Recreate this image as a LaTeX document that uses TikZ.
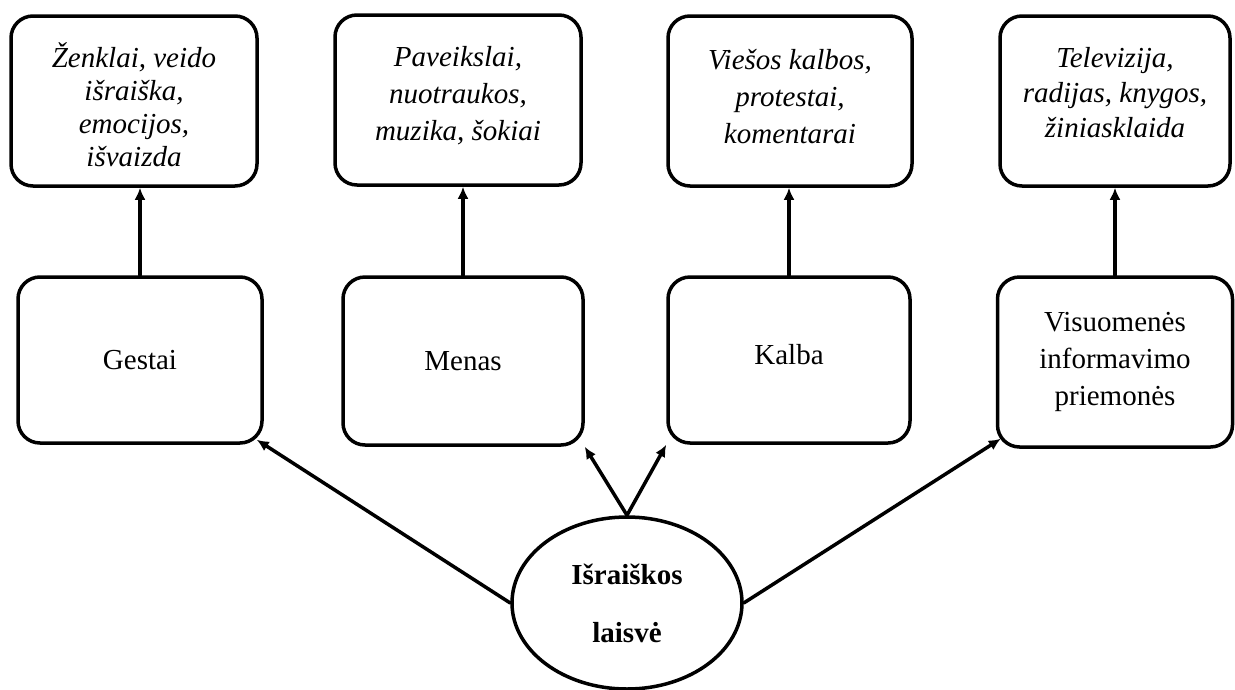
\documentclass[tikz,border=0pt]{standalone}
\usepackage{fontspec}
\setmainfont{Liberation Serif}
\usetikzlibrary{shapes.geometric,arrows.meta,calc}
\newcommand{\liftup}[2]{\raisebox{#1}[0pt][0pt]{\begin{tabular}{@{}c@{}}#2\end{tabular}}}

\begin{document}
\begin{tikzpicture}[x=1pt,y=-1pt,line cap=round,line join=round,
    topbox/.style={draw,line width=3.5pt,rounded corners=22pt,align=center,inner sep=0pt,
        minimum height=170pt,font=\fontsize{29}{37}\selectfont\itshape},
    midbox/.style={draw,line width=3.5pt,rounded corners=22pt,align=center,inner sep=0pt,
        font=\fontsize{29}{37}\selectfont},
    link/.style={line width=3.5pt,-{Latex[length=12pt,width=11pt]}}]
    \useasboundingbox (0,0) rectangle (1235,689);
    % top row
    \node[topbox,minimum width=246pt] (t1) at (134,101) {\liftup{-15pt}{Ženklai, veido\\[-4pt]išraiška,\\[-4pt]emocijos,\\[-4pt]išvaizda}};
    \node[topbox,minimum width=246pt] (t2) at (458,100) {\liftup{-2pt}{Paveikslai,\\nuotraukos,\\muzika, šokiai}};
    \node[topbox,minimum width=244pt] (t3) at (790,101) {\liftup{-4pt}{Viešos kalbos,\\protestai,\\komentarai}};
    \node[topbox,minimum width=230pt] (t4) at (1115,101) {\liftup{0pt}{Televizija,\\[-2pt]radijas, knygos,\\[-2pt]žiniasklaida}};

    % middle row
    \node[midbox,minimum width=244pt,minimum height=166pt] (m1) at (140,360) {Gestai};
    \node[midbox,minimum width=240pt,minimum height=168pt] (m2) at (463,361) {Menas};
    \node[midbox,minimum width=242pt,minimum height=166pt] (m3) at (789,360) {\liftup{-3pt}{Kalba}};
    \node[midbox,minimum width=235pt,minimum height=170pt] (m4) at (1115,362) {Visuomenės\\informavimo\\priemonės};

    % root
    \node[draw,ellipse,line width=3.5pt,minimum width=230pt,minimum height=172pt,inner sep=0pt,
        align=center,font=\fontsize{29}{58}\selectfont\bfseries] (root) at (627,603) {Išraiškos\\laisvė};

    \foreach \i in {1,...,4} {\draw[link] (m\i.north) -- (m\i.north |- t\i.south);}
    \draw[link] (root.west) -- ($(m1.south east)+(-7,-5)$);
    \draw[link] (root.north) -- (m2.south east);
    \draw[link] (root.north) -- (m3.south west);
    \draw[link] (root.east) -- ($(m4.south west)+(5,-10)$);
\end{tikzpicture}
\end{document}
